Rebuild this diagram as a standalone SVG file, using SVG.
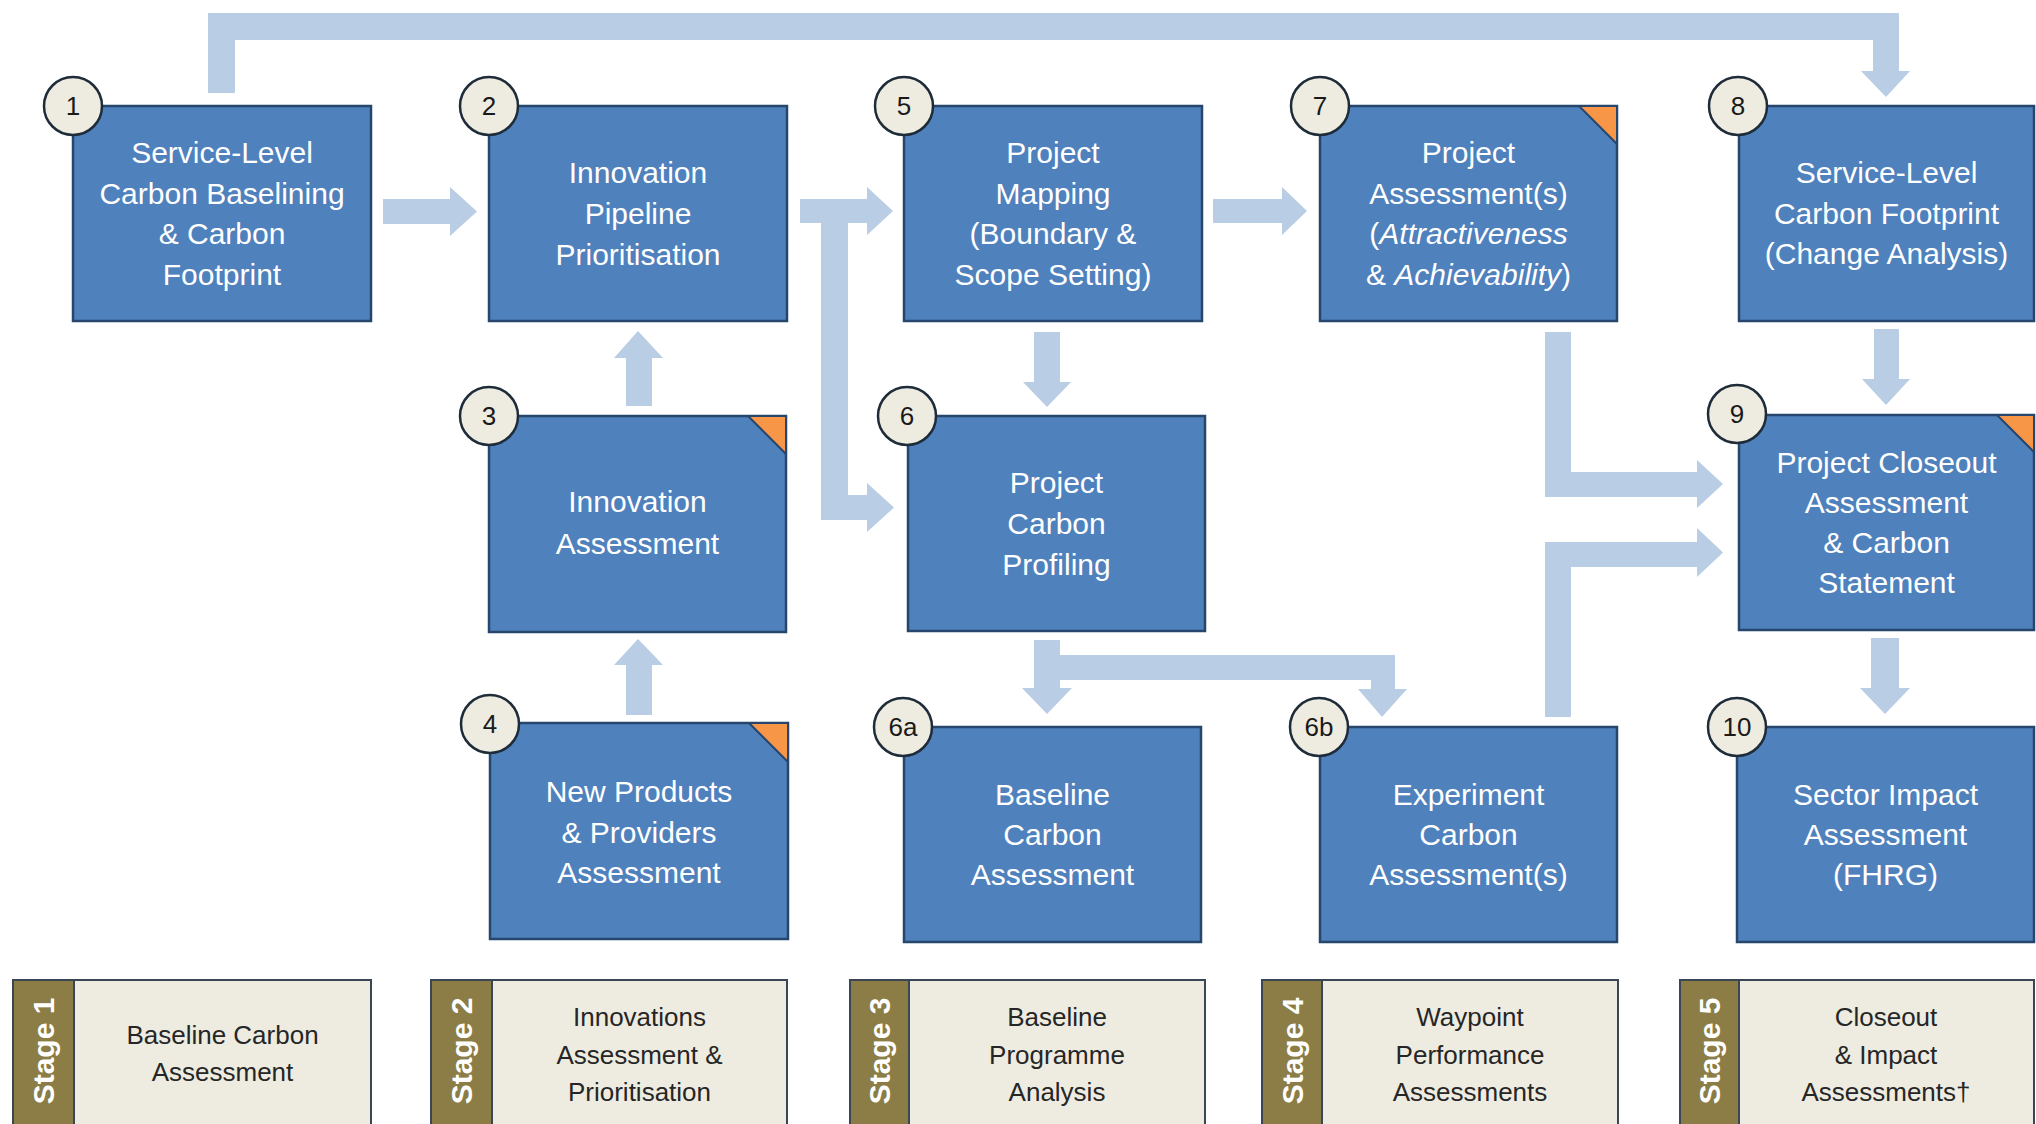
<svg xmlns="http://www.w3.org/2000/svg" width="2036" height="1124" viewBox="0 0 2036 1124">
<style>
.box{fill:#4F81BD;stroke:#27466D;stroke-width:2.5}
.num{fill:#EEECE1;stroke:#1E2B38;stroke-width:2.5}
.corner{fill:#F79646;stroke:#27466D;stroke-width:2}
.arrow{fill:#B9CDE5}
.nt{font-family:"Liberation Sans",Arial,sans-serif;font-size:30px;fill:#FFFFFF;text-anchor:middle}
.nn{font-family:"Liberation Sans",Arial,sans-serif;font-size:26px;fill:#1A1A1A;text-anchor:middle}
.sbox{fill:#EEECE1;stroke:#3A4654;stroke-width:2}
.strip{fill:#8B7D45;stroke:#3A4654;stroke-width:2}
.sl{font-family:"Liberation Sans",Arial,sans-serif;font-weight:bold;font-size:30px;fill:#FFFFFF;text-anchor:middle}
.st{font-family:"Liberation Sans",Arial,sans-serif;font-size:26px;fill:#262626;text-anchor:middle}
</style>
<rect x="0" y="0" width="2036" height="1124" fill="#FFFFFF"/>
<g id="connectors">
<polygon class="arrow" points="208,93 208,13 1899,13 1899,71 1910,71 1886,97 1861,71 1873,71 1873,40 235,40 235,93"/>
<polygon class="arrow" points="383,199 450,199 450,187 477,211.5 450,236 450,224 383,224"/>
<polygon class="arrow" points="800,199 867,199 867,187 893,211 867,235 867,223 848,223 848,495 867,495 867,483 894,507.5 867,532 867,520 821,520 821,223 800,223"/>
<polygon class="arrow" points="1213,199 1282,199 1282,187 1307,211 1282,235 1282,223 1213,223"/>
<polygon class="arrow" points="1034,332 1060,332 1060,382 1071,382 1047,407 1023,382 1034,382"/>
<polygon class="arrow" points="626,406 626,358 614,358 638,331 663,358 652,358 652,406"/>
<polygon class="arrow" points="626,715 626,665 614,665 638,639 663,665 652,665 652,715"/>
<polygon class="arrow" points="1034,640 1060,640 1060,655 1395,655 1395,689 1407,689 1382,717 1358,689 1371,689 1371,680 1060,680 1060,688 1072,688 1047,714 1022,688 1034,688"/>
<polygon class="arrow" points="1545,332 1571,332 1571,472 1697,472 1697,460 1723,484 1697,508 1697,497 1545,497"/>
<polygon class="arrow" points="1545,717 1545,542 1697,542 1697,528 1723,552.5 1697,577 1697,567 1571,567 1571,717"/>
<polygon class="arrow" points="1874,329 1899,329 1899,379 1910,379 1886,405 1862,379 1874,379"/>
<polygon class="arrow" points="1871,638 1899,638 1899,688 1910,688 1885,714 1860,688 1871,688"/>
</g>
<g id="node1">
<rect class="box" x="73" y="106" width="298" height="215"/>
<text class="nt" x="222" y="163">Service-Level</text>
<text class="nt" x="222" y="203.5">Carbon Baselining</text>
<text class="nt" x="222" y="244">&amp; Carbon</text>
<text class="nt" x="222" y="285">Footprint</text>
<circle class="num" cx="73" cy="106" r="29"/>
<text class="nn" x="73" y="115">1</text>
</g>
<g id="node2">
<rect class="box" x="489" y="106" width="298" height="215"/>
<text class="nt" x="638" y="183">Innovation</text>
<text class="nt" x="638" y="224">Pipeline</text>
<text class="nt" x="638" y="265">Prioritisation</text>
<circle class="num" cx="489" cy="106" r="29"/>
<text class="nn" x="489" y="115">2</text>
</g>
<g id="node5">
<rect class="box" x="904" y="106" width="298" height="215"/>
<text class="nt" x="1053" y="163">Project</text>
<text class="nt" x="1053" y="203.5">Mapping</text>
<text class="nt" x="1053" y="244">(Boundary &amp;</text>
<text class="nt" x="1053" y="284.5">Scope Setting)</text>
<circle class="num" cx="904" cy="106" r="29"/>
<text class="nn" x="904" y="115">5</text>
</g>
<g id="node7">
<rect class="box" x="1320" y="106" width="297" height="215"/>
<polygon class="corner" points="1579,106 1617,106 1617,144"/>
<text class="nt" x="1468.5" y="163">Project</text>
<text class="nt" x="1468.5" y="203.5">Assessment(s)</text>
<text class="nt" x="1468.5" y="244">(<tspan font-style="italic">Attractiveness</tspan></text>
<text class="nt" x="1468.5" y="284.5">&amp; <tspan font-style="italic">Achievability</tspan>)</text>
<circle class="num" cx="1320" cy="106" r="29"/>
<text class="nn" x="1320" y="115">7</text>
</g>
<g id="node8">
<rect class="box" x="1739" y="106" width="295" height="215"/>
<text class="nt" x="1886.5" y="183">Service-Level</text>
<text class="nt" x="1886.5" y="223.5">Carbon Footprint</text>
<text class="nt" x="1886.5" y="264">(Change Analysis)</text>
<circle class="num" cx="1738" cy="106" r="29"/>
<text class="nn" x="1738" y="115">8</text>
</g>
<g id="node3">
<rect class="box" x="489" y="416" width="297" height="216"/>
<polygon class="corner" points="748,416 786,416 786,454"/>
<text class="nt" x="637.5" y="512">Innovation</text>
<text class="nt" x="637.5" y="554">Assessment</text>
<circle class="num" cx="489" cy="416" r="29"/>
<text class="nn" x="489" y="425">3</text>
</g>
<g id="node6">
<rect class="box" x="908" y="416" width="297" height="215"/>
<text class="nt" x="1056.5" y="493">Project</text>
<text class="nt" x="1056.5" y="534">Carbon</text>
<text class="nt" x="1056.5" y="575">Profiling</text>
<circle class="num" cx="907" cy="416" r="29"/>
<text class="nn" x="907" y="425">6</text>
</g>
<g id="node9">
<rect class="box" x="1739" y="415" width="295" height="215"/>
<polygon class="corner" points="1997,415 2034,415 2034,452"/>
<text class="nt" x="1886.5" y="473">Project Closeout</text>
<text class="nt" x="1886.5" y="513">Assessment</text>
<text class="nt" x="1886.5" y="553">&amp; Carbon</text>
<text class="nt" x="1886.5" y="593">Statement</text>
<circle class="num" cx="1737" cy="414" r="29"/>
<text class="nn" x="1737" y="423">9</text>
</g>
<g id="node4">
<rect class="box" x="490" y="723" width="298" height="216"/>
<polygon class="corner" points="749,723 788,723 788,762"/>
<text class="nt" x="639" y="802">New Products</text>
<text class="nt" x="639" y="843">&amp; Providers</text>
<text class="nt" x="639" y="883">Assessment</text>
<circle class="num" cx="490" cy="724" r="29"/>
<text class="nn" x="490" y="733">4</text>
</g>
<g id="node6a">
<rect class="box" x="904" y="727" width="297" height="215"/>
<text class="nt" x="1052.5" y="805">Baseline</text>
<text class="nt" x="1052.5" y="845">Carbon</text>
<text class="nt" x="1052.5" y="885">Assessment</text>
<circle class="num" cx="903" cy="727" r="29"/>
<text class="nn" x="903" y="736">6a</text>
</g>
<g id="node6b">
<rect class="box" x="1320" y="727" width="297" height="215"/>
<text class="nt" x="1468.5" y="805">Experiment</text>
<text class="nt" x="1468.5" y="845">Carbon</text>
<text class="nt" x="1468.5" y="885">Assessment(s)</text>
<circle class="num" cx="1319" cy="727" r="29"/>
<text class="nn" x="1319" y="736">6b</text>
</g>
<g id="node10">
<rect class="box" x="1737" y="727" width="297" height="215"/>
<text class="nt" x="1885.5" y="805">Sector Impact</text>
<text class="nt" x="1885.5" y="845">Assessment</text>
<text class="nt" x="1885.5" y="885">(FHRG)</text>
<circle class="num" cx="1737" cy="727" r="29"/>
<text class="nn" x="1737" y="736">10</text>
</g>
<g id="stage1">
<rect class="sbox" x="13" y="980" width="358" height="145"/>
<rect class="strip" x="13" y="980" width="61" height="145"/>
<text class="sl" transform="translate(54,1051) rotate(-90)">Stage 1</text>
<text class="st" x="222.5" y="1044">Baseline Carbon</text>
<text class="st" x="222.5" y="1081">Assessment</text>
</g>
<g id="stage2">
<rect class="sbox" x="431" y="980" width="356" height="145"/>
<rect class="strip" x="431" y="980" width="61" height="145"/>
<text class="sl" transform="translate(472,1051) rotate(-90)">Stage 2</text>
<text class="st" x="639.5" y="1026">Innovations</text>
<text class="st" x="639.5" y="1063.5">Assessment &amp;</text>
<text class="st" x="639.5" y="1101">Prioritisation</text>
</g>
<g id="stage3">
<rect class="sbox" x="850" y="980" width="355" height="145"/>
<rect class="strip" x="850" y="980" width="59" height="145"/>
<text class="sl" transform="translate(890,1051) rotate(-90)">Stage 3</text>
<text class="st" x="1057" y="1026">Baseline</text>
<text class="st" x="1057" y="1063.5">Programme</text>
<text class="st" x="1057" y="1101">Analysis</text>
</g>
<g id="stage4">
<rect class="sbox" x="1262" y="980" width="356" height="145"/>
<rect class="strip" x="1262" y="980" width="60" height="145"/>
<text class="sl" transform="translate(1302.5,1051) rotate(-90)">Stage 4</text>
<text class="st" x="1470" y="1026">Waypoint</text>
<text class="st" x="1470" y="1063.5">Performance</text>
<text class="st" x="1470" y="1101">Assessments</text>
</g>
<g id="stage5">
<rect class="sbox" x="1680" y="980" width="354" height="145"/>
<rect class="strip" x="1680" y="980" width="59" height="145"/>
<text class="sl" transform="translate(1720,1051) rotate(-90)">Stage 5</text>
<text class="st" x="1886" y="1026">Closeout</text>
<text class="st" x="1886" y="1063.5">&amp; Impact</text>
<text class="st" x="1886" y="1101">Assessments†</text>
</g>
</svg>
